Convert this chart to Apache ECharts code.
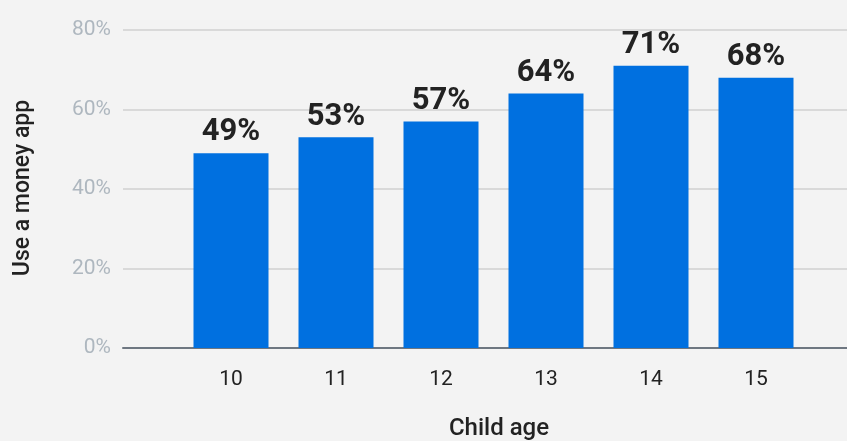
<!DOCTYPE html>
<html><head><meta charset="utf-8">
<script src="https://cdn.jsdelivr.net/npm/echarts@6/dist/echarts.min.js"></script>
<style>html,body{margin:0;padding:0;background:#f3f3f3}#c{width:847px;height:441px}</style>
</head><body><div id="c"></div>
<script>
const categories = ['10','11','12','13','14','15'];
const values = [49,53,57,64,71,68];
const yTicks = [0,20,40,60,80];
const yTitle = 'Use a money app';
const xTitle = 'Child age';

const chart = echarts.init(document.getElementById('c'));
chart.setOption({
  backgroundColor:'#f3f3f3',
  animation:false,
  textStyle:{fontFamily:'Roboto'},
  grid:[
    {left:123,right:0,top:30,bottom:93},
    {left:178.5,width:630,top:30,bottom:93}
  ],
  xAxis:[
    {gridIndex:0,type:'value',min:0,max:1,axisLine:{show:true,onZero:false,lineStyle:{color:'#6e7781',width:2}},axisTick:{show:false},axisLabel:{show:false},splitLine:{show:false}},
    {gridIndex:1,type:'category',data:categories,axisLine:{show:false},axisTick:{show:false},
     axisLabel:{color:'#222',fontSize:21,margin:21,fontFamily:'Roboto'}}
  ],
  yAxis:[
    {gridIndex:0,type:'value',min:yTicks[0],max:yTicks[yTicks.length-1],interval:20,
     axisLine:{show:false},axisTick:{show:false},
     axisLabel:{color:'#aeb7bf',fontSize:21,margin:12,padding:[0,0,9,0],formatter:v=>v+'%',fontFamily:'Roboto'},
     splitLine:{lineStyle:{color:'#d0d0d0',width:1.5}}},
    {gridIndex:1,type:'value',min:0,max:80,show:false}
  ],
  series:[{
    type:'bar',xAxisIndex:1,yAxisIndex:1,data:values,barWidth:75,
    itemStyle:{color:'#0070e0'},
    label:{show:true,position:'top',distance:5,formatter:p=>p.value+'%',color:'#222',fontSize:31,fontWeight:'bold',fontFamily:'Roboto'}
  }],
  graphic:[
    {type:'text',x:23,y:188,rotation:Math.PI/2,style:{text:yTitle,fill:'#222',font:'500 23px Roboto',textAlign:'center',textVerticalAlign:'middle'}},
    {type:'text',x:499,y:429,style:{text:xTitle,fill:'#222',font:'500 24px Roboto',textAlign:'center',textVerticalAlign:'middle'}}
  ]
});
</script></body></html>
